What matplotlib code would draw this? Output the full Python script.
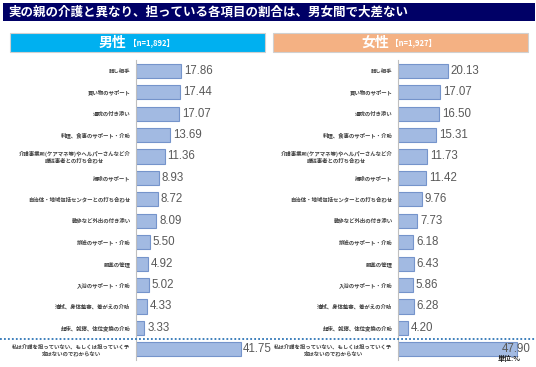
import matplotlib
matplotlib.use("Agg")
import matplotlib.pyplot as plt
from matplotlib.patches import Rectangle
from matplotlib.lines import Line2D

plt.rcParams['font.family'] = ['Noto Sans CJK JP', 'DejaVu Sans']

title = "実の親の介護と異なり、担っている各項目の割合は、男女間で大差ない"
categories = [
    "話し相手",
    "買い物のサポート",
    "通院の付き添い",
    "料理、食事のサポート・介助",
    "介護事業所(ケアマネ等)やヘルパーさんなど介\n護従事者との打ち合わせ",
    "掃除のサポート",
    "自治体・地域包括センターとの打ち合わせ",
    "散歩など外出の付き添い",
    "排泄のサポート・介助",
    "服薬の管理",
    "入浴のサポート・介助",
    "清拭、身体整容、着がえの介助",
    "起床、就寝、体位変換の介助",
    "私は介護を担っていない、もしくは担っていく予\n定はないのでわからない",
]
male = [17.86, 17.44, 17.07, 13.69, 11.36, 8.93, 8.72, 8.09, 5.50, 4.92, 5.02, 4.33, 3.33, 41.75]
female = [20.13, 17.07, 16.50, 15.31, 11.73, 11.42, 9.76, 7.73, 6.18, 6.43, 5.86, 6.28, 4.20, 47.90]
male_header = ("男性", "【n=1,892】")
female_header = ("女性", "【n=1,927】")
unit_label = "単位:%"

W, H = 536, 367
fig = plt.figure(figsize=(W / 100, H / 100), dpi=100)
fig.patch.set_facecolor('white')

def fx(px):
    return px / W

def fy(py):
    return 1 - py / H

# title bar
fig.patches.append(Rectangle((fx(3), fy(21)), fx(532), 18 / H, transform=fig.transFigure,
                             facecolor='#000066', edgecolor='none'))
fig.text(fx(8), fy(12), title, color='white', fontsize=9, fontweight='bold',
         va='center', ha='left')

# header boxes
for (x0, x1, col, hdr) in [(10, 265, '#00B0F0', male_header), (273, 528, '#F4B183', female_header)]:
    fig.patches.append(Rectangle((fx(x0), fy(52)), fx(x1 - x0), 19 / H, transform=fig.transFigure,
                                 facecolor=col, edgecolor='#D0D0D0', linewidth=0.8))
    cx = (x0 + x1) / 2 - 11
    fig.text(fx(cx), fy(42.5), hdr[0], color='white', fontsize=10, fontweight='bold',
             ha='right', va='center')
    fig.text(fx(cx + 2), fy(42.5), hdr[1], color='white', fontsize=5.5, fontweight='bold',
             ha='left', va='center')

bar_face = '#A2BAE2'
bar_edge = '#7594CB'

def panel(rect, values, xmax, last_offset=1):
    ax = fig.add_axes(rect)
    y = list(range(len(categories)))
    ax.barh(y, values, height=0.66, color=bar_face, edgecolor=bar_edge, linewidth=0.8)
    ax.set_xlim(0, xmax)
    ax.set_ylim(len(categories) - 0.5, -0.5)
    ax.set_yticks(y)
    ax.set_yticklabels(categories, fontsize=3.9, fontweight='bold', color='#404040',
                       multialignment='center', linespacing=1.15)
    ax.tick_params(axis='y', length=0, pad=4)
    ax.set_xticks([])
    for s in ['top', 'right', 'bottom']:
        ax.spines[s].set_visible(False)
    ax.spines['left'].set_color('#BFBFBF')
    ax.spines['left'].set_linewidth(0.8)
    for i, v in enumerate(values):
        off = 2 if i < len(values) - 1 else last_offset
        ax.annotate(f"{v:.2f}", (v, i), xytext=(off, 0), textcoords='offset points',
                    va='center', ha='left', fontsize=8.3, color='#595959',
                    family=['Liberation Sans', 'DejaVu Sans'], annotation_clip=False)
    return ax

axL = panel([fx(136), fy(360), fx(126), 300 / H], male, 50.0)
axR = panel([fx(398), fy(360), fx(130), 300 / H], female, 52.4, last_offset=-11)

# dotted separator across the figure
ysep = axL.transData.transform((0, len(categories) - 1.5))[1]
ysep_fig = fig.transFigure.inverted().transform((0, ysep))[1]
fig.lines.append(Line2D([0, 1], [ysep_fig, ysep_fig], transform=fig.transFigure,
                        color='#2E75B6', linestyle=(0, (1, 1.2)), linewidth=1.3))

fig.text(fx(498), fy(358), unit_label, fontsize=5, fontweight='bold', color='#202020',
         ha='left', va='center')

fig.savefig('out.png', dpi=100)
